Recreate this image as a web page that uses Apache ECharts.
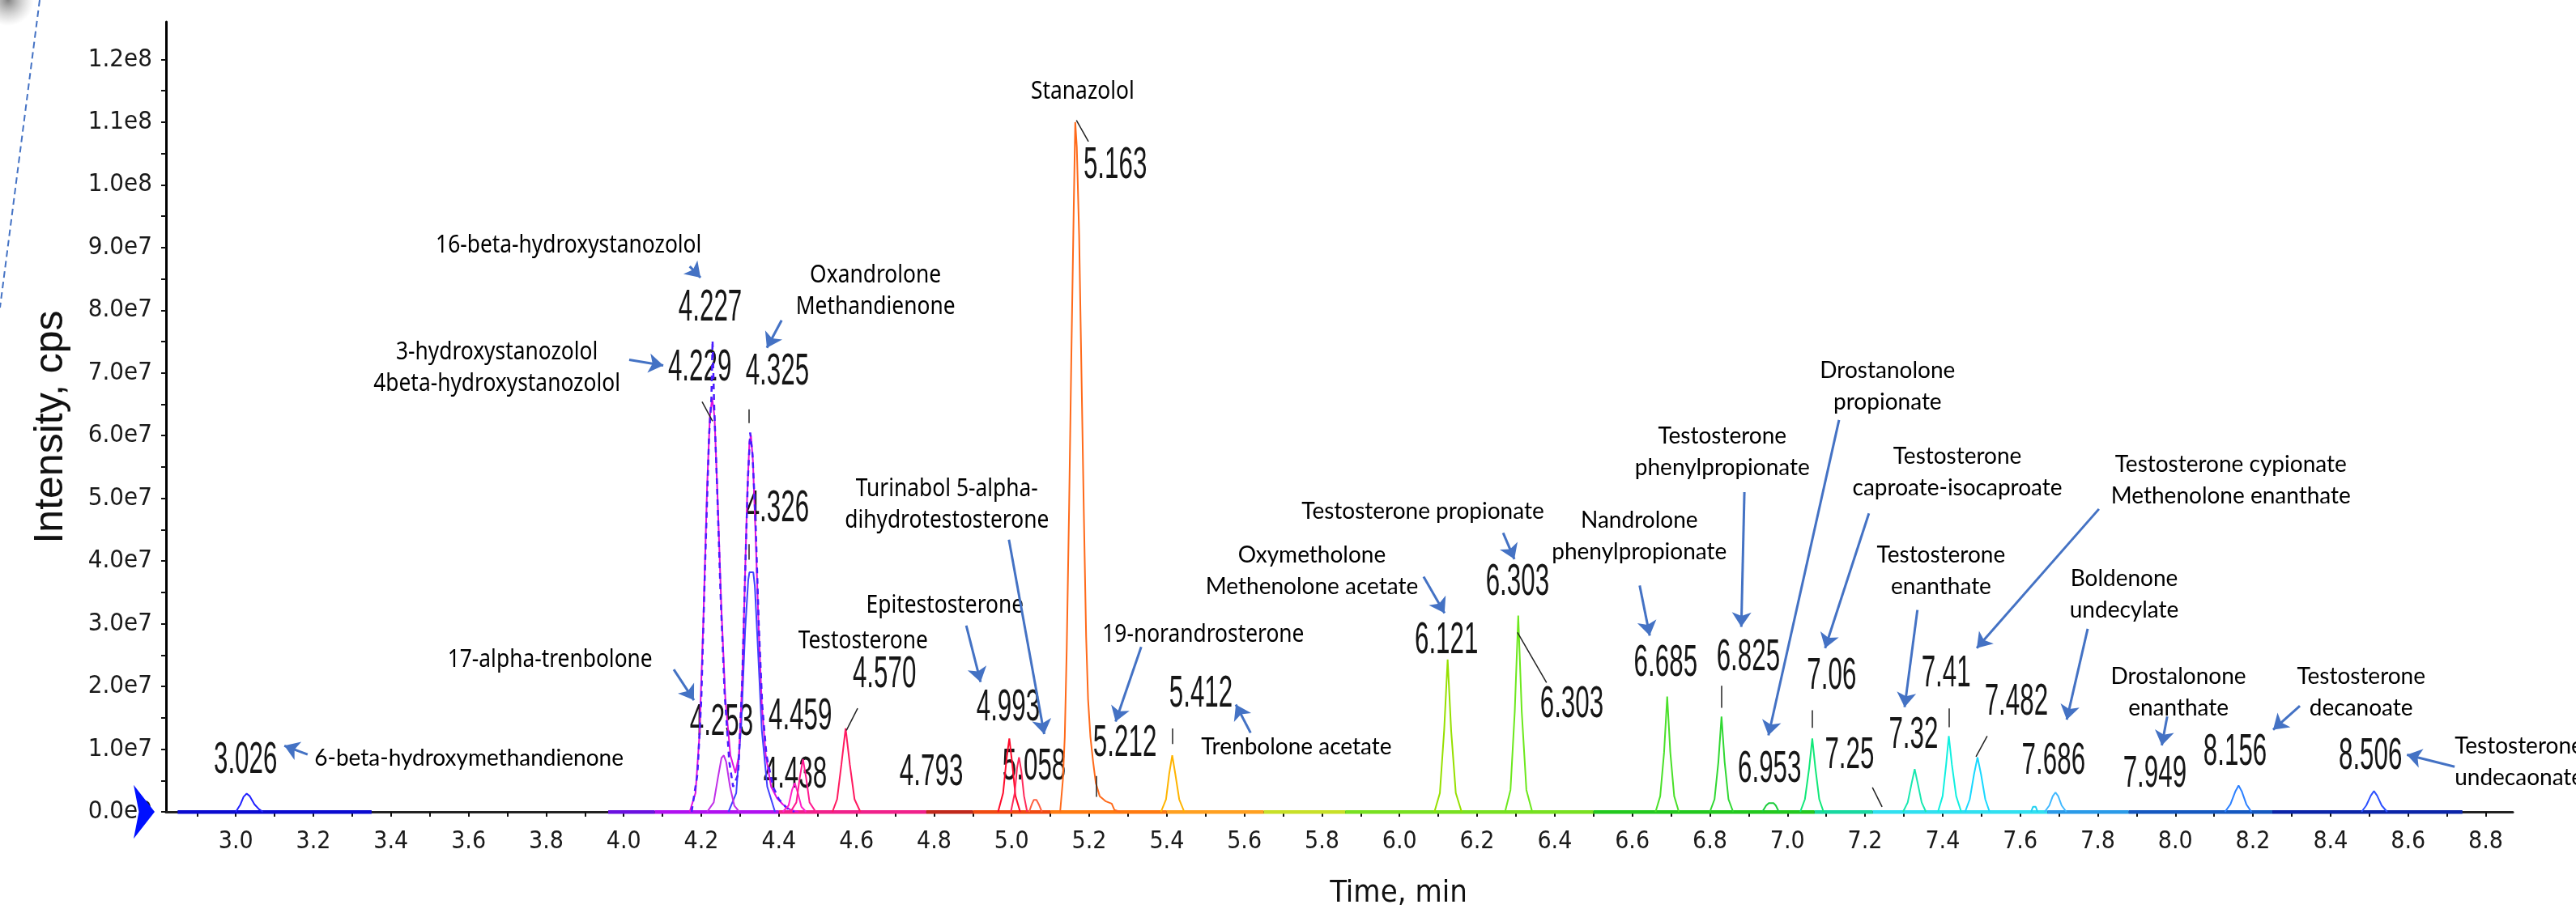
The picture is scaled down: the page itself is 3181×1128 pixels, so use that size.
<!DOCTYPE html>
<html>
<head>
<meta charset="utf-8">
<script src="https://cdn.jsdelivr.net/npm/echarts@6/dist/echarts.min.js"></script>
<style>html,body{margin:0;padding:0;background:#fff}#main{width:3181px;height:1128px}</style>
</head>
<body>
<div id="main"></div>
<script>
// time in min, intensity in units of 1e7 cps
var xLabelValues = [3.0,3.2,3.4,3.6,3.8,4.0,4.2,4.4,4.6,4.8,5.0,5.2,5.4,5.6,5.8,6.0,6.2,6.4,6.6,6.8,7.0,7.2,7.4,7.6,7.8,8.0,8.2,8.4,8.6,8.8];
var xTickValues = [2.9,3.0,3.1,3.2,3.3,3.4,3.5,3.6,3.7,3.8,3.9,4.0,4.1,4.2,4.3,4.4,4.5,4.6,4.7,4.8,4.9,5.0,5.1,5.2,5.3,5.4,5.5,5.6,5.7,5.8,5.9,6.0,6.1,6.2,6.3,6.4,6.5,6.6,6.7,6.8,6.9,7.0,7.1,7.2,7.3,7.4,7.5,7.6,7.7,7.8,7.9,8.0,8.1,8.2,8.3,8.4,8.5,8.6,8.7,8.8];
var yLabelValues = [0,1,2,3,4,5,6,7,8,9,10,11,12];
var yTickValues = [0,0.5,1,1.5,2,2.5,3,3.5,4,4.5,5,5.5,6,6.5,7,7.5,8,8.5,9,9.5,10,10.5,11,11.5,12];

// peaks
var pk3026 = [[3.0,0],[3.012,0.12],[3.02,0.24],[3.028,0.29],[3.036,0.25],[3.048,0.12],[3.06,0.04],[3.07,0]];
var pk4326b = [[4.27,0],[4.29,0.3],[4.303,1.4],[4.313,2.9],[4.321,3.7],[4.324,3.82],[4.334,3.82],[4.338,3.6],[4.346,2.6],[4.356,1.3],[4.37,0.4],[4.39,0]];
var pkMag = [[4.17,0],[4.185,0.3],[4.195,1.2],[4.205,3.0],[4.215,5.2],[4.222,6.3],[4.228,6.6],[4.234,6.3],[4.242,5.0],[4.252,3.2],[4.262,1.8],[4.275,0.9],[4.288,0.62],[4.297,0.9],[4.305,2.0],[4.312,3.6],[4.318,5.0],[4.324,5.9],[4.328,6.0],[4.333,5.6],[4.34,4.4],[4.348,2.9],[4.356,1.7],[4.366,0.9],[4.38,0.4],[4.395,0.22],[4.41,0.12],[4.43,0.03],[4.45,0]];
var pkViolet = [[4.175,0],[4.19,0.6],[4.2,1.8],[4.21,4.0],[4.22,6.0],[4.226,6.6],[4.229,7.52],[4.233,6.5],[4.24,5.3],[4.25,3.4],[4.26,1.9],[4.272,0.8],[4.282,0.4],[4.295,0.6],[4.305,2.0],[4.313,3.8],[4.32,5.3],[4.326,6.05],[4.332,5.7],[4.34,4.6],[4.348,3.0],[4.357,1.7],[4.368,0.9],[4.385,0.4],[4.4,0.2],[4.42,0.06],[4.44,0]];
var pk4253 = [[4.215,0],[4.232,0.15],[4.243,0.55],[4.252,0.86],[4.258,0.9],[4.264,0.8],[4.274,0.4],[4.285,0.1],[4.298,0]];
var pk4438 = [[4.41,0],[4.425,0.1],[4.434,0.35],[4.441,0.46],[4.448,0.32],[4.458,0.08],[4.47,0]];
var pk4459 = [[4.43,0],[4.445,0.15],[4.454,0.55],[4.462,0.84],[4.47,0.55],[4.479,0.15],[4.495,0]];
var pk4570 = [[4.538,0],[4.55,0.2],[4.561,0.75],[4.572,1.33],[4.583,0.75],[4.595,0.2],[4.61,0]];
var pk4993 = [[4.965,0],[4.978,0.3],[4.987,0.85],[4.994,1.17],[5.001,0.8],[5.01,0.25],[5.022,0]];
var pk5019 = [[4.998,0],[5.008,0.3],[5.014,0.7],[5.019,0.87],[5.025,0.65],[5.032,0.25],[5.04,0]];
var pk5058 = [[5.045,0],[5.052,0.12],[5.057,0.19],[5.064,0.19],[5.07,0.12],[5.078,0]];
var pk5163 = [[5.125,0],[5.132,0.5],[5.137,1.2],[5.142,2.6],[5.148,4.8],[5.154,7.3],[5.16,9.6],[5.164,11.0],[5.168,10.6],[5.174,9.2],[5.18,7.0],[5.186,4.8],[5.192,2.8],[5.197,1.8],[5.203,1.2],[5.21,0.8],[5.217,0.46],[5.227,0.25],[5.242,0.17],[5.258,0.13],[5.265,0.03],[5.28,0]];
var pk5412 = [[5.385,0],[5.398,0.2],[5.406,0.6],[5.414,0.9],[5.422,0.6],[5.432,0.2],[5.445,0]];
var pk6121 = [[6.09,0],[6.104,0.3],[6.115,1.3],[6.124,2.43],[6.133,1.3],[6.145,0.3],[6.16,0]];
var pk6303 = [[6.272,0],[6.286,0.35],[6.297,1.6],[6.306,3.13],[6.315,1.6],[6.327,0.35],[6.342,0]];
var pk6685 = [[6.66,0],[6.672,0.25],[6.682,0.95],[6.69,1.84],[6.698,0.95],[6.708,0.25],[6.72,0]];
var pk6825 = [[6.8,0],[6.812,0.2],[6.822,0.8],[6.83,1.52],[6.838,0.8],[6.848,0.2],[6.86,0]];
var pk6953 = [[6.935,0],[6.945,0.1],[6.952,0.14],[6.964,0.14],[6.97,0.1],[6.978,0]];
var pk7060 = [[7.033,0],[7.045,0.2],[7.056,0.7],[7.064,1.17],[7.072,0.7],[7.082,0.2],[7.093,0]];
var pk7320 = [[7.298,0],[7.31,0.15],[7.32,0.45],[7.328,0.68],[7.336,0.45],[7.346,0.15],[7.357,0]];
var pk7410 = [[7.388,0],[7.4,0.25],[7.409,0.75],[7.416,1.21],[7.424,0.75],[7.435,0.25],[7.448,0]];
var pk7482 = [[7.458,0],[7.47,0.2],[7.481,0.6],[7.49,0.87],[7.499,0.6],[7.51,0.2],[7.521,0]];
var pk7636 = [[7.628,0],[7.633,0.08],[7.64,0.08],[7.645,0]];
var pk7686 = [[7.663,0],[7.675,0.1],[7.684,0.25],[7.691,0.31],[7.698,0.25],[7.707,0.1],[7.719,0]];
var pk8156 = [[8.128,0],[8.142,0.12],[8.155,0.33],[8.163,0.42],[8.171,0.33],[8.183,0.12],[8.196,0]];
var pk8506 = [[8.48,0],[8.492,0.1],[8.504,0.26],[8.512,0.33],[8.52,0.26],[8.532,0.1],[8.546,0]];

var traceList = [pk3026, pk4326b, pkMag, pkViolet, pk4253, pk4438, pk4459, pk4570, pk4993, pk5019, pk5058, pk5163, pk5412,
  pk6121, pk6303, pk6685, pk6825, pk6953, pk7060, pk7320, pk7410, pk7482, pk7636, pk7686, pk8156, pk8506];
var traceColor = ['#2020ff', '#4040ff', '#e010e0', '#4a1cff', '#c030e8', '#ff20c8', '#ff1a90', '#ff1a60', '#ff0a2a', '#ff2a5a', '#ff6040', '#ff6a1a', '#ffb400',
  '#96e000', '#6ce81c', '#4ae02a', '#30d832', '#1ccc3c', '#10e878', '#18e8b0', '#10f0e0', '#18d8ff', '#20d0f0', '#40b8ff', '#2c80ff', '#2c50ff'];

// time windows of the extracted traces (baseline)
var baselineRanges = [[2.85,3.35],[3.96,4.08],[4.08,4.40],[4.40,4.78],[4.78,4.90],[4.90,5.10],[5.10,5.40],[5.40,5.65],[5.65,5.86],[5.86,6.5],[6.5,7.07],[7.07,7.22],[7.22,7.67],[7.67,7.88],[7.88,8.25],[8.25,8.74]];
var baselineColor = ['#0a0ad0','#6a10e0','#b010f0','#f0208a','#c0281a','#f04a10','#ff7a10','#ffa020','#c8e028','#78e020','#22c81e','#18d8a0','#30e0f0','#2a9ae8','#1458c0','#0a24a8'];

// retention time labels
var peakLabels = ['3.026','4.227','4.229','4.325','4.326','4.253','4.459','4.438','4.570','4.793','4.993','5.058','5.163','5.212','5.412',
  '6.121','6.303','6.303','6.685','6.825','6.953','7.06','7.25','7.32','7.41','7.482','7.686','7.949','8.156','8.506'];
var peakLabelAt = [[3.025,0.82],[4.223,8.04],[4.196,7.08],[4.396,7.01],[4.396,4.83],[4.252,1.43],[4.455,1.51],[4.442,0.59],[4.672,2.19],[4.793,0.62],[4.991,1.66],[5.058,0.72],[5.267,10.31],[5.292,1.09],[5.488,1.88],
  [6.121,2.73],[6.304,3.66],[6.444,1.71],[6.686,2.37],[6.899,2.46],[6.954,0.68],[7.114,2.16],[7.160,0.90],[7.325,1.22],[7.409,2.20],[7.590,1.75],[7.686,0.81],[7.947,0.60],[8.154,0.95],[8.503,0.88]];
var leaderLines = [[[4.202,6.54],[4.229,6.23]],[[4.323,6.42],[4.323,6.20]],[[4.323,4.27],[4.323,4.02]],[[4.603,1.65],[4.574,1.30]],[[5.167,11.03],[5.198,10.69]],
  [[5.219,0.57],[5.219,0.24]],[[5.414,1.33],[5.414,1.08]],[[6.304,2.86],[6.379,2.06]],[[6.830,2.01],[6.830,1.66]],[[7.064,1.62],[7.064,1.34]],
  [[7.219,0.39],[7.244,0.08]],[[7.417,1.65],[7.417,1.35]],[[7.515,1.21],[7.486,0.88]]];

// compound names
var compounds = ['6-beta-hydroxymethandienone','16-beta-hydroxystanozolol','3-hydroxystanozolol\n4beta-hydroxystanozolol','17-alpha-trenbolone','Oxandrolone\nMethandienone',
  'Stanazolol','Turinabol 5-alpha-\ndihydrotestosterone','Epitestosterone','Testosterone','19-norandrosterone','Trenbolone acetate','Testosterone propionate',
  'Oxymetholone\nMethenolone acetate','Nandrolone\nphenylpropionate','Testosterone\nphenylpropionate','Drostanolone\npropionate','Testosterone\ncaproate-isocaproate',
  'Testosterone\nenanthate','Testosterone cypionate\nMethenolone enanthate','Boldenone\nundecylate','Drostalonone\nenanthate','Testosterone\ndecanoate','Testosterone\nundecaonate'];
var compoundAt = [[3.601,0.85],[3.858,9.03],[3.673,7.08],[3.810,2.43],[4.649,8.31],[5.183,11.49],[4.833,4.90],[4.828,3.29],[4.617,2.72],[5.494,2.82],[5.734,1.03],[6.060,4.79],
  [5.774,3.84],[6.618,4.40],[6.832,5.74],[7.258,6.78],[7.438,5.41],[7.396,3.84],[8.143,5.29],[7.868,3.47],[8.008,1.91],[8.479,1.91],[8.720,0.80]];
var compoundFont = ['c','g','g','g','g','g','g','g','g','g','c','c','c','c','c','c','c','c','c','c','c','c','c'];
var arrows = [[[3.185,0.914],[3.125,1.055]],[[4.170,8.70],[4.198,8.52]],[[4.014,7.21],[4.102,7.12]],[[4.129,2.27],[4.181,1.78]],[[4.407,7.84],[4.369,7.40]],
  [[4.993,4.34],[5.084,1.24]],[[4.883,2.97],[4.920,2.07]],[[5.334,2.63],[5.268,1.44]],[[5.616,1.26],[5.578,1.71]],[[6.267,4.45],[6.296,4.03]],
  [[6.062,3.75],[6.116,3.17]],[[6.619,3.61],[6.645,2.81]],[[6.889,5.10],[6.881,2.95]],[[7.133,6.25],[6.951,1.22]],[[7.210,4.76],[7.097,2.61]],
  [[7.335,3.22],[7.302,1.67]],[[7.803,4.83],[7.488,2.61]],[[7.774,2.92],[7.720,1.47]],[[7.979,1.52],[7.965,1.06]],[[8.321,1.69],[8.252,1.31]],[[8.720,0.72],[8.597,0.91]]];

var NARROW = "'Liberation Sans Narrow','DejaVu Sans Condensed','Arial Narrow',sans-serif";

var myChart = echarts.init(document.getElementById('main'));

var series = [];

// 基线
series.push({
    type: 'lines',
    coordinateSystem: 'cartesian2d',
    silent: true,
    lineStyle: {width: 5, opacity: 1},
    data: baselineRanges.map(function (r, i) {
        return {coords: [[r[0], 0], [r[1], 0]], lineStyle: {color: baselineColor[i]}};
    })
});

traceList.forEach(function (pts, i) {
    var s = {
        type: 'line',
        data: pts,
        showSymbol: false,
        silent: true,
        lineStyle: {color: traceColor[i], width: 2},
        itemStyle: {color: traceColor[i]}
    };
    if (pts === pkViolet) {
        s.lineStyle.type = [7, 6];
        s.lineStyle.width = 2.5;
    }
    if (i === 0) {
        // blue marker at the zero line
        s.markPoint = {
            silent: true,
            symbol: 'arrow',
            symbolSize: [50, 26],
            symbolRotate: -90,
            symbolOffset: [-14, 0],
            itemStyle: {color: '#0010ff'},
            label: {show: false},
            data: [{coord: [2.82, 0]}]
        };
    }
    series.push(s);
});

// RT labels, tall and condensed like the instrument software
series.push({
    type: 'custom',
    coordinateSystem: 'cartesian2d',
    silent: true,
    data: peakLabelAt,
    renderItem: function (params, api) {
        var p = api.coord([api.value(0), api.value(1)]);
        return {
            type: 'text', x: p[0], y: p[1], scaleX: 0.56,
            style: {
                text: peakLabels[params.dataIndex],
                fontFamily: "'Liberation Sans', Arial, sans-serif", fontSize: 56,
                fill: '#161616', align: 'center', verticalAlign: 'middle'
            }
        };
    },
    markLine: {
        silent: true, symbol: 'none', label: {show: false},
        lineStyle: {color: '#222', width: 1.5, type: 'solid'},
        data: leaderLines.map(function (l) { return [{coord: l[0]}, {coord: l[1]}]; })
    }
});

// 化合物名称
series.push({
    type: 'custom',
    coordinateSystem: 'cartesian2d',
    silent: true,
    data: compoundAt,
    renderItem: function (params, api) {
        var i = params.dataIndex;
        var p = api.coord([api.value(0), api.value(1)]);
        var geo = compoundFont[i] === 'g';
        var last = i === compounds.length - 1;
        return {
            type: 'text', x: p[0], y: p[1], scaleX: geo ? 0.85 : 1,
            style: {
                text: compounds[i],
                fontFamily: geo ? "'Noto Sans', sans-serif" : "Lato, sans-serif",
                fontSize: geo ? 31 : 28, lineHeight: 39,
                fill: '#000', align: last ? 'left' : 'center', verticalAlign: 'middle'
            }
        };
    },
    markLine: {
        silent: true, symbol: ['none', 'arrow'], symbolSize: 18, label: {show: false},
        lineStyle: {color: '#4472c4', width: 3, type: 'solid'},
        data: arrows.map(function (a) { return [{coord: a[0]}, {coord: a[1]}]; })
    }
});

var option = {
    animation: false,
    grid: {left: 205, right: 78, top: 27, bottom: 122},
    xAxis: {
        type: 'value',
        min: 2.82,
        max: 8.87,
        name: 'Time, min',
        nameLocation: 'middle',
        nameGap: 82,
        nameTextStyle: {fontFamily: NARROW, fontSize: 38, color: '#111', padding: [0, 0, 0, 146]},
        axisLine: {lineStyle: {color: '#222', width: 3}},
        axisTick: {customValues: xTickValues, length: 6, lineStyle: {color: '#111', width: 2}},
        axisLabel: {
            customValues: xLabelValues, margin: 22,
            fontFamily: NARROW, fontSize: 30, color: '#1a1a1a',
            formatter: function (v) { return v.toFixed(1); }
        },
        splitLine: {show: false}
    },
    yAxis: {
        type: 'value',
        min: 0,
        max: 12.6,
        name: 'Intensity, cps',
        nameLocation: 'middle',
        nameGap: 117,
        nameTextStyle: {fontFamily: "'Liberation Sans', Arial, sans-serif", fontSize: 50, color: '#111', padding: [0, 25, 0, 0]},
        axisLine: {lineStyle: {color: '#000', width: 3}},
        axisTick: {customValues: yTickValues, length: 6, lineStyle: {color: '#111', width: 2}},
        axisLabel: {
            customValues: yLabelValues, margin: 17,
            fontFamily: NARROW, fontSize: 31, color: '#1a1a1a',
            formatter: function (v) {
                var c = v * 1e7;
                if (c === 0) return '0.0e0';
                var e = Math.floor(Math.log10(c) + 1e-9);
                return (c / Math.pow(10, e)).toFixed(1) + 'e' + e;
            }
        },
        splitLine: {show: false}
    },
    graphic: [
        {type: 'circle', shape: {cx: 10, cy: 0, r: 32}, silent: true,
         style: {fill: new echarts.graphic.RadialGradient(0.5, 0.5, 0.5, [{offset: 0, color: 'rgba(90,90,90,0.75)'}, {offset: 1, color: 'rgba(160,160,160,0)'}])}},
        {type: 'line', shape: {x1: 49, y1: 0, x2: 0, y2: 380}, silent: true,
         style: {stroke: '#4472c4', lineWidth: 2, lineDash: [8, 5]}}
    ],
    series: series
};
myChart.setOption(option);
</script>
</body>
</html>
